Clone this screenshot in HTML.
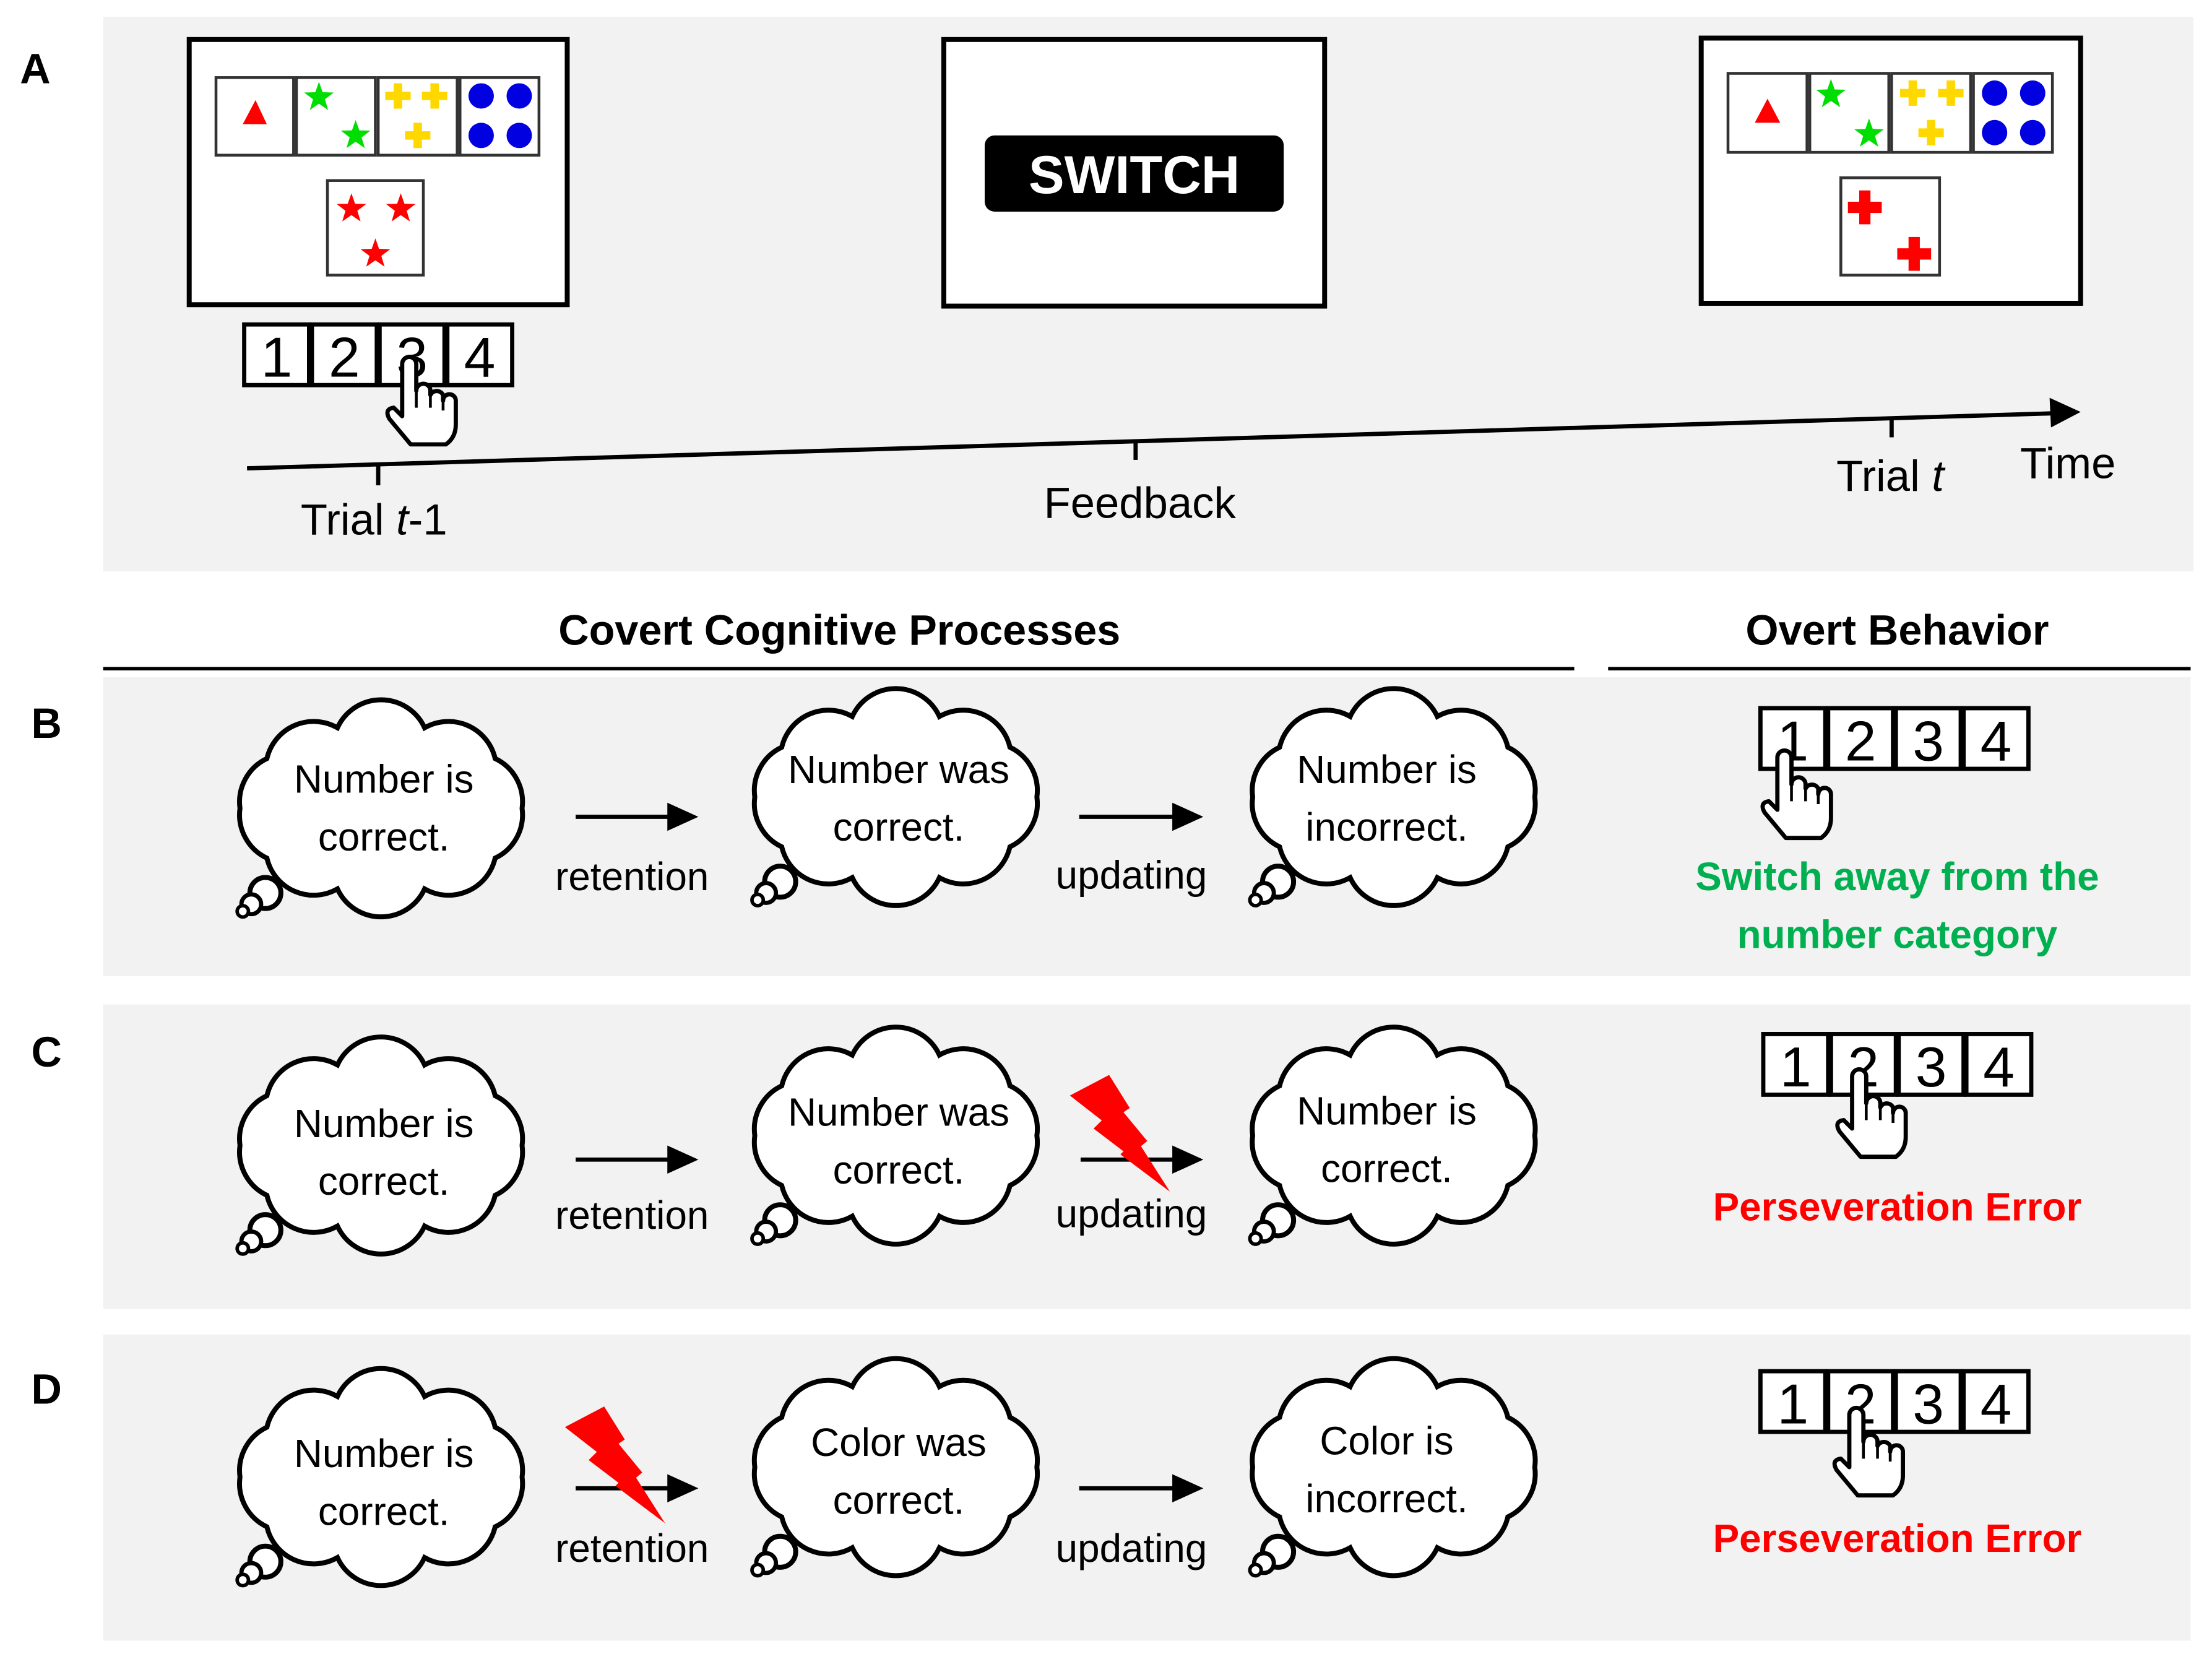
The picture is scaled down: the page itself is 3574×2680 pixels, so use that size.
<!DOCTYPE html>
<html><head><meta charset="utf-8"><style>
html,body{margin:0;padding:0;background:#fff;}
svg{display:block;}
text{font-family:"Liberation Sans",sans-serif;}
</style></head><body>
<svg width="3574" height="2680" viewBox="0 0 1568 1176" xmlns="http://www.w3.org/2000/svg">
<defs>
<g id="cloud">
<path d="M100,0 A34,34 0 0 1 80.9,35.3 A34,34 0 0 1 30.9,57.1 A34,34 0 0 1 -30.9,57.1 A34,34 0 0 1 -80.9,35.3 A34,34 0 0 1 -100,0 A34,34 0 0 1 -80.9,-35.3 A34,34 0 0 1 -30.9,-57.1 A34,34 0 0 1 30.9,-57.1 A34,34 0 0 1 80.9,-35.3 A34,34 0 0 1 100,0 Z" fill="#fff" stroke="#000" stroke-width="3.5"/>
<circle cx="-82" cy="60" r="11" fill="#fff" stroke="#000" stroke-width="3.5"/>
<circle cx="-92" cy="68" r="7" fill="#fff" stroke="#000" stroke-width="3"/>
<circle cx="-98" cy="73" r="4" fill="#fff" stroke="#000" stroke-width="2.5"/>
</g>
<g id="hand">
<path d="M-5,3 a5,5 0 0 1 10,0 V22 a5,5 0 0 1 10,0 V25 a5,5 0 0 1 9,0 V29 a4.5,4.5 0 0 1 9,0 V46 q0,9 -7,14 H1 L-14,42 q-4,-7 3,-8 L-5,40 Z" fill="#fff" stroke="#000" stroke-width="3" stroke-linejoin="round"/>
<path d="M5,22 V34 M15,25 V34 M24,29 V36" stroke="#000" stroke-width="2"/>
</g>
<polygon id="star" points="0,-11 2.6,-3.6 10.5,-3.4 4.2,1.4 6.5,9 0,4.5 -6.5,9 -4.2,1.4 -10.5,-3.4 -2.6,-3.6"/>
<path id="plus" d="M-3,-9 H3 V-3 H9 V3 H3 V9 H-3 V3 H-9 V-3 H-3 Z"/>
<polygon id="bolt" points="758.4,776.6 786.2,762 800.8,785.4 796.4,788.4 813.2,808.8 808.8,812.5 829.3,844.7 794.2,818.3 796.4,816.1 775.2,800 781,794.2" fill="#ff0000"/>
<g id="keys">
<rect x="0" y="0" width="46" height="43" fill="#fff" stroke="#000" stroke-width="3"/>
<rect x="48" y="0" width="46" height="43" fill="#fff" stroke="#000" stroke-width="3"/>
<rect x="96" y="0" width="46" height="43" fill="#fff" stroke="#000" stroke-width="3"/>
<rect x="144" y="0" width="46" height="43" fill="#fff" stroke="#000" stroke-width="3"/>
<text x="23" y="37" font-size="40" text-anchor="middle">1</text>
<text x="71" y="37" font-size="40" text-anchor="middle">2</text>
<text x="119" y="37" font-size="40" text-anchor="middle">3</text>
<text x="167" y="37" font-size="40" text-anchor="middle">4</text>
</g>
<marker id="ah" markerWidth="10" markerHeight="10" refX="2" refY="5" orient="auto" markerUnits="userSpaceOnUse"><path d="M0,0 L10,5 L0,10 Z"/></marker>
</defs>

<!-- Panel A -->
<rect x="73" y="12" width="1482" height="393" fill="#f2f2f2"/>
<text x="14" y="59" font-size="30" font-weight="bold">A</text>

<rect x="134" y="28" width="268" height="188" fill="#fff" stroke="#000" stroke-width="3.5"/>
<g fill="#fff" stroke="#333" stroke-width="2">
<rect x="153" y="55" width="55" height="55"/><rect x="210" y="55" width="56" height="55"/><rect x="268" y="55" width="56" height="55"/><rect x="326" y="55" width="56" height="55"/>
<rect x="232" y="128" width="68" height="67"/>
</g>
<polygon points="181,71 172,88 189,88" fill="#f00"/>
<use href="#star" x="226" y="69" fill="#0d0" transform="translate(0,0)"/>
<use href="#star" x="252" y="96" fill="#0d0"/>
<use href="#plus" x="282" y="68" fill="#ffd800"/><use href="#plus" x="308" y="68" fill="#ffd800"/><use href="#plus" x="296" y="96" fill="#ffd800"/>
<g fill="#0000e0"><circle cx="341" cy="68" r="9"/><circle cx="368" cy="68" r="9"/><circle cx="341" cy="96" r="9"/><circle cx="368" cy="96" r="9"/></g>
<use href="#star" x="249" y="148" fill="#f00" transform="translate(0,0)"/>
<use href="#star" x="284" y="148" fill="#f00"/>
<use href="#star" x="266" y="180" fill="#f00"/>

<use href="#keys" x="173" y="230"/>
<use href="#hand" x="290" y="255"/>

<rect x="669" y="28" width="270" height="189" fill="#fff" stroke="#000" stroke-width="3.5"/>
<rect x="698" y="96" width="212" height="54" rx="7" fill="#000"/>
<text x="804" y="137" font-size="38" font-weight="bold" fill="#fff" text-anchor="middle">SWITCH</text>

<rect x="1206" y="27" width="269" height="188" fill="#fff" stroke="#000" stroke-width="3.5"/>
<g fill="#fff" stroke="#333" stroke-width="2">
<rect x="1225" y="52" width="56" height="56"/><rect x="1283" y="52" width="56" height="56"/><rect x="1341" y="52" width="56" height="56"/><rect x="1399" y="52" width="56" height="56"/>
<rect x="1305" y="126" width="70" height="69"/>
</g>
<polygon points="1253,70 1244,87 1262,87" fill="#f00"/>
<use href="#star" x="1298" y="67" fill="#0d0"/><use href="#star" x="1325" y="95" fill="#0d0"/>
<use href="#plus" x="1356" y="66" fill="#ffd800"/><use href="#plus" x="1383" y="66" fill="#ffd800"/><use href="#plus" x="1369" y="94" fill="#ffd800"/>
<g fill="#0000e0"><circle cx="1414" cy="66" r="9"/><circle cx="1441" cy="66" r="9"/><circle cx="1414" cy="94" r="9"/><circle cx="1441" cy="94" r="9"/></g>
<g fill="#f00"><path d="M1318,135 h8 v8 h8 v8 h-8 v8 h-8 v-8 h-8 v-8 h8 Z"/><path d="M1353,168 h8 v8 h8 v8 h-8 v8 h-8 v-8 h-8 v-8 h8 Z"/></g>

<line x1="175" y1="332" x2="1455" y2="293" stroke="#000" stroke-width="3"/>
<polygon points="1475,292 1453,282 1454,303" fill="#000"/>
<line x1="268" y1="329" x2="268" y2="344" stroke="#000" stroke-width="3"/>
<line x1="805" y1="313" x2="805" y2="326" stroke="#000" stroke-width="3"/>
<line x1="1341" y1="297" x2="1341" y2="310" stroke="#000" stroke-width="3"/>
<text x="265" y="379" font-size="31" text-anchor="middle">Trial <tspan font-style="italic">t</tspan>-1</text>
<text x="808" y="367" font-size="31" text-anchor="middle">Feedback</text>
<text x="1340" y="348" font-size="31" text-anchor="middle">Trial <tspan font-style="italic">t</tspan></text>
<text x="1466" y="339" font-size="31" text-anchor="middle">Time</text>

<!-- headers -->
<text x="595" y="457" font-size="30" font-weight="bold" text-anchor="middle">Covert Cognitive Processes</text>
<line x1="73" y1="474" x2="1116" y2="474" stroke="#000" stroke-width="2.5"/>
<text x="1345" y="457" font-size="30" font-weight="bold" text-anchor="middle">Overt Behavior</text>
<line x1="1140" y1="474" x2="1553" y2="474" stroke="#000" stroke-width="2.5"/>

<!-- Panel B -->
<rect x="73" y="480" width="1480" height="212" fill="#f2f2f2"/>
<text x="22" y="523" font-size="30" font-weight="bold">B</text>
<use href="#cloud" x="270" y="573"/><use href="#cloud" x="635" y="565"/><use href="#cloud" x="988" y="565"/>
<g font-size="28" text-anchor="middle">
<text x="272" y="562">Number is</text><text x="272" y="603">correct.</text>
<text x="637" y="555">Number was</text><text x="637" y="596">correct.</text>
<text x="983" y="555">Number is</text><text x="983" y="596">incorrect.</text>
<text x="448" y="631">retention</text><text x="802" y="630">updating</text>
</g>
<g stroke="#000" stroke-width="3"><line x1="408" y1="579" x2="475" y2="579"/><line x1="765" y1="579" x2="833" y2="579"/></g>
<polygon points="495,579 473,569 473,589"/><polygon points="853,579 831,569 831,589"/>
<use href="#keys" x="1248" y="502"/>
<use href="#hand" x="1265" y="534"/>
<g font-size="28" font-weight="bold" fill="#00b050" text-anchor="middle">
<text x="1345" y="631">Switch away from the</text><text x="1345" y="672">number category</text></g>

<!-- Panel C -->
<rect x="73" y="712" width="1480" height="216" fill="#f2f2f2"/>
<text x="22" y="756" font-size="30" font-weight="bold">C</text>
<use href="#cloud" x="270" y="812"/><use href="#cloud" x="635" y="805"/><use href="#cloud" x="988" y="805"/>
<g font-size="28" text-anchor="middle">
<text x="272" y="806">Number is</text><text x="272" y="847">correct.</text>
<text x="637" y="798">Number was</text><text x="637" y="839">correct.</text>
<text x="983" y="797">Number is</text><text x="983" y="838">correct.</text>
<text x="448" y="871">retention</text><text x="802" y="870">updating</text>
</g>
<g stroke="#000" stroke-width="3"><line x1="408" y1="822" x2="475" y2="822"/><line x1="766" y1="822" x2="833" y2="822"/></g>
<polygon points="495,822 473,812 473,832"/><polygon points="853,822 831,812 831,832"/>
<use href="#bolt"/>
<use href="#keys" x="1250" y="733"/>
<use href="#hand" x="1318" y="760"/>
<text x="1345" y="865" font-size="28" font-weight="bold" fill="#f00" text-anchor="middle">Perseveration Error</text>

<!-- Panel D -->
<rect x="73" y="946" width="1480" height="217" fill="#f2f2f2"/>
<text x="22" y="995" font-size="30" font-weight="bold">D</text>
<use href="#cloud" x="270" y="1047"/><use href="#cloud" x="635" y="1040"/><use href="#cloud" x="988" y="1040"/>
<g font-size="28" text-anchor="middle">
<text x="272" y="1040">Number is</text><text x="272" y="1081">correct.</text>
<text x="637" y="1032">Color was</text><text x="637" y="1073">correct.</text>
<text x="983" y="1031">Color is</text><text x="983" y="1072">incorrect.</text>
<text x="448" y="1107">retention</text><text x="802" y="1107">updating</text>
</g>
<g stroke="#000" stroke-width="3"><line x1="408" y1="1055" x2="475" y2="1055"/><line x1="765" y1="1055" x2="833" y2="1055"/></g>
<polygon points="495,1055 473,1045 473,1065"/><polygon points="853,1055 831,1045 831,1065"/>
<use href="#bolt" x="-358" y="235"/>
<use href="#keys" x="1248" y="972"/>
<use href="#hand" x="1316" y="1000"/>
<text x="1345" y="1100" font-size="28" font-weight="bold" fill="#f00" text-anchor="middle">Perseveration Error</text>
</svg>
</body></html>
